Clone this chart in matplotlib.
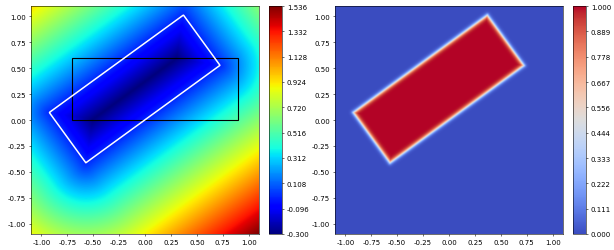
import numpy as np
import matplotlib
matplotlib.use("Agg")
import matplotlib.pyplot as plt
from matplotlib.patches import Rectangle

# domain and grid
lim = 1.1
n = 400

# reference box (black, axis aligned)
box_xy = (-0.7, 0.0)
box_w = 1.6
box_h = 0.6

# rotated box (white contour)
rot_center = (-0.1, 0.3)
rot_w = 1.6
rot_h = 0.6
rot_angle = 36.0   # degrees

eps = 0.01   # smoothing width of the indicator

sdf_ticks = np.linspace(-0.300, 1.536, 10)
ind_ticks = np.linspace(0.0, 1.0, 10)

x = np.linspace(-lim, lim, n)
y = np.linspace(-lim, lim, n)
X, Y = np.meshgrid(x, y)

th = np.deg2rad(rot_angle)
px = X - rot_center[0]
py = Y - rot_center[1]
lx = px*np.cos(th) + py*np.sin(th)
ly = -px*np.sin(th) + py*np.cos(th)
qx = np.abs(lx) - rot_w/2
qy = np.abs(ly) - rot_h/2
outside = np.hypot(np.maximum(qx, 0), np.maximum(qy, 0))
inside = np.minimum(np.maximum(qx, qy), 0)
sdf = outside + inside

ind = 1.0/(1.0 + np.exp(np.clip(sdf/eps, -50, 50)))

W, H = 614, 251
fig = plt.figure(figsize=(W/50, H/50), dpi=50)

def box(l, b, w, h):
    return [l/W, (H-b-h)/H, w/W, h/H]

ax1 = fig.add_axes(box(31, 7, 228, 228))
cax1 = fig.add_axes(box(269, 7, 13, 228))
ax2 = fig.add_axes(box(335, 7, 228, 228))
cax2 = fig.add_axes(box(573, 7, 13, 228))

im1 = ax1.imshow(sdf, origin='lower', extent=[-lim, lim, -lim, lim],
                 cmap='jet', vmin=sdf_ticks[0], vmax=sdf_ticks[-1], aspect='auto')
ax1.contour(X, Y, sdf, levels=[0.0], colors='white', linewidths=2.2)
ax1.add_patch(Rectangle(box_xy, box_w, box_h, fill=False, edgecolor='black', lw=1.6))
cb1 = fig.colorbar(im1, cax=cax1, ticks=sdf_ticks)
cb1.ax.set_yticklabels(['%.3f' % t for t in sdf_ticks])

im2 = ax2.imshow(ind, origin='lower', extent=[-lim, lim, -lim, lim],
                 cmap='coolwarm', vmin=0, vmax=1, aspect='auto')
cb2 = fig.colorbar(im2, cax=cax2, ticks=ind_ticks)
cb2.ax.set_yticklabels(['%.3f' % t for t in ind_ticks])

ticks = np.arange(-1.0, 1.01, 0.25)
for ax in (ax1, ax2):
    ax.set_xticks(ticks)
    ax.set_yticks(ticks)
    ax.set_xticklabels(['%.2f' % t for t in ticks])
    ax.set_yticklabels(['%.2f' % t for t in ticks])
    ax.set_xlim(-lim, lim)
    ax.set_ylim(-lim, lim)

fig.savefig('out.png', dpi=50)
